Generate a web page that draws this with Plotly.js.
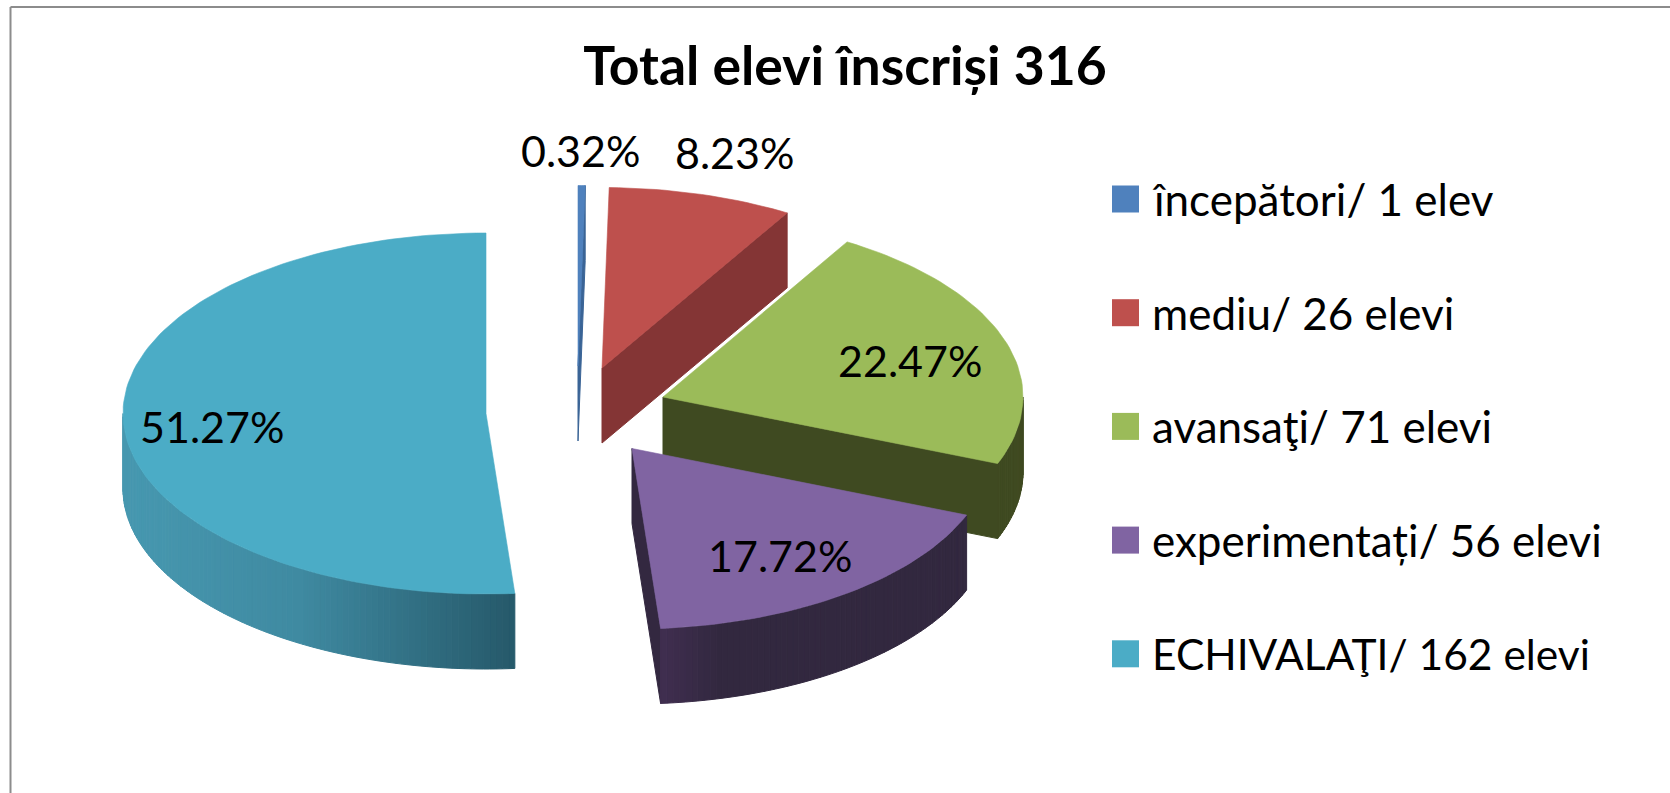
<!DOCTYPE html>
<html><head><meta charset="utf-8">
<script src="https://cdn.plot.ly/plotly-3.0.1.min.js"></script>
<style>html,body{margin:0;padding:0;background:#fff}#c{width:1670px;height:793px}</style>
</head><body><div id="c"></div>
<script>
const categories = ["începători/ 1 elev","mediu/ 26 elevi","avansaţi/ 71 elevi","experimentați/ 56 elevi","ECHIVALAŢI/ 162 elevi"];
const elevi = [1,26,71,56,162];
const totalElevi = 316;
const topColors = ["#4F81BD","#BE504D","#9BBB59","#8064A2","#4BACC6"];
const faceColors = ["#3A6496","#843535","#3F4A21","#332840","#26596A"];
const apexX = [578,602,663,632,486];
const apexY = [366,368,397,448.5,413.5];
const radiusX = [362,362,360,360,363];
const labelX = [580,734,910,780,212];
const labelY = [150,152,360,555,426];
const legendFontSize = [44,44,44,44,42.5];
const RY=180.5, DEPTH=75;

const traces=[];
const rad=d=>d*Math.PI/180;
function pt(i,a){return [apexX[i]+radiusX[i]*Math.sin(rad(a)), apexY[i]-RY*Math.cos(rad(a))];}
function poly(xs,ys,color,name,hover){
  traces.push({type:'scatter',mode:'lines',x:xs,y:ys,fill:'toself',fillcolor:color,
    line:{color:color,width:hover?0.6:1},showlegend:false,name:name,
    hoverinfo:hover?'text':'skip',text:hover||undefined,hoveron:'fills'});
}
function mix(a,b,t){const p=c=>[1,3,5].map(k=>parseInt(c.substr(k,2),16));const A=p(a),B=p(b);
  return 'rgb('+A.map((v,k)=>Math.round(v+(B[k]-v)*t)).join(',')+')';}
function sideColor(i,x){
  if(i===4){
    const t=(x-(apexX[4]-radiusX[4]))/(radiusX[4]+28);
    return t<0.45?mix("#4798B0","#3F8AA1",t/0.45):mix("#3F8AA1","#26596A",(t-0.45)/0.55);
  }
  if(i===3){const t=Math.min(1,(x-660)/60);return mix("#402E50","#32283F",Math.max(0,t));}
  return faceColors[i];
}
let cum=0;
elevi.forEach((v,i)=>{
  const a0=cum/totalElevi*360, a1=(cum+v)/totalElevi*360; cum+=v;
  const ax=apexX[i], ay=apexY[i];
  const e1=pt(i,a1);
  if(i<4) poly([ax,e1[0],e1[0],ax,ax],[ay,e1[1],e1[1]+DEPTH,ay+DEPTH,ay],faceColors[i],categories[i]);
  const w0=Math.max(a0,90), w1=Math.min(a1,270);
  if(w1>w0){
    const n=Math.ceil(w1-w0);
    for(let k=0;k<n;k++){
      const b0=w0+(w1-w0)*k/n, b1=w0+(w1-w0)*(k+1)/n;
      const p0=pt(i,b0),p1=pt(i,b1);
      poly([p0[0],p1[0],p1[0],p0[0],p0[0]],[p0[1],p1[1],p1[1]+DEPTH,p0[1]+DEPTH,p0[1]],
           sideColor(i,(p0[0]+p1[0])/2),categories[i]);
    }
  }
  const xs=[ax],ys=[ay],steps=Math.max(2,Math.ceil((a1-a0)/1.5));
  for(let k=0;k<=steps;k++){const p=pt(i,a0+(a1-a0)*k/steps);xs.push(p[0]);ys.push(p[1]);}
  xs.push(ax);ys.push(ay);
  poly(xs,ys,topColors[i],categories[i],categories[i]+': '+(v/totalElevi*100).toFixed(2)+'%');
});

const legendX=1125.5, legendTextX=1152, legendY0=199, legendStep=113.7;
categories.forEach((c,i)=>{
  traces.push({type:'scatter',mode:'markers',x:[legendX],y:[legendY0+i*legendStep],
    marker:{symbol:'square',size:27,color:topColors[i],line:{width:0}},showlegend:false,hoverinfo:'skip'});
});

const FONT='Lato, Carlito, sans-serif';
const annotations=[];
categories.forEach((c,i)=>annotations.push({xref:'x',yref:'y',x:legendTextX,y:legendY0+i*legendStep,text:c,showarrow:false,
  xanchor:'left',yanchor:'middle',xshift:-2,font:{family:FONT,size:legendFontSize[i],color:'#000'}}));
elevi.forEach((v,i)=>annotations.push({xref:'x',yref:'y',x:labelX[i],y:labelY[i],text:(v/totalElevi*100).toFixed(2)+'%',showarrow:false,
  xanchor:'center',yanchor:'middle',font:{family:FONT,size:43,color:'#000'}}));

const layout={
  width:1670,height:793,margin:{l:0,r:0,t:0,b:0},paper_bgcolor:'#fff',plot_bgcolor:'#fff',
  title:{text:'Total elevi înscriși '+totalElevi,x:845/1670,xanchor:'center',y:1-66/793,yanchor:'middle',
    font:{family:FONT,size:53.5,color:'#000',weight:700}},
  xaxis:{range:[0,1670],visible:false,fixedrange:true},
  yaxis:{range:[793,0],visible:false,fixedrange:true},
  showlegend:false,hovermode:'closest',annotations:annotations,
  shapes:[{type:'line',xref:'x',yref:'y',x0:10.5,y0:7,x1:1670,y1:7,line:{color:'#8C8C8C',width:2},layer:'below'},
          {type:'line',xref:'x',yref:'y',x0:10.5,y0:7,x1:10.5,y1:793,line:{color:'#8C8C8C',width:2},layer:'below'}]
};
Plotly.newPlot('c',traces,layout,{displayModeBar:false,responsive:false});
</script></body></html>
